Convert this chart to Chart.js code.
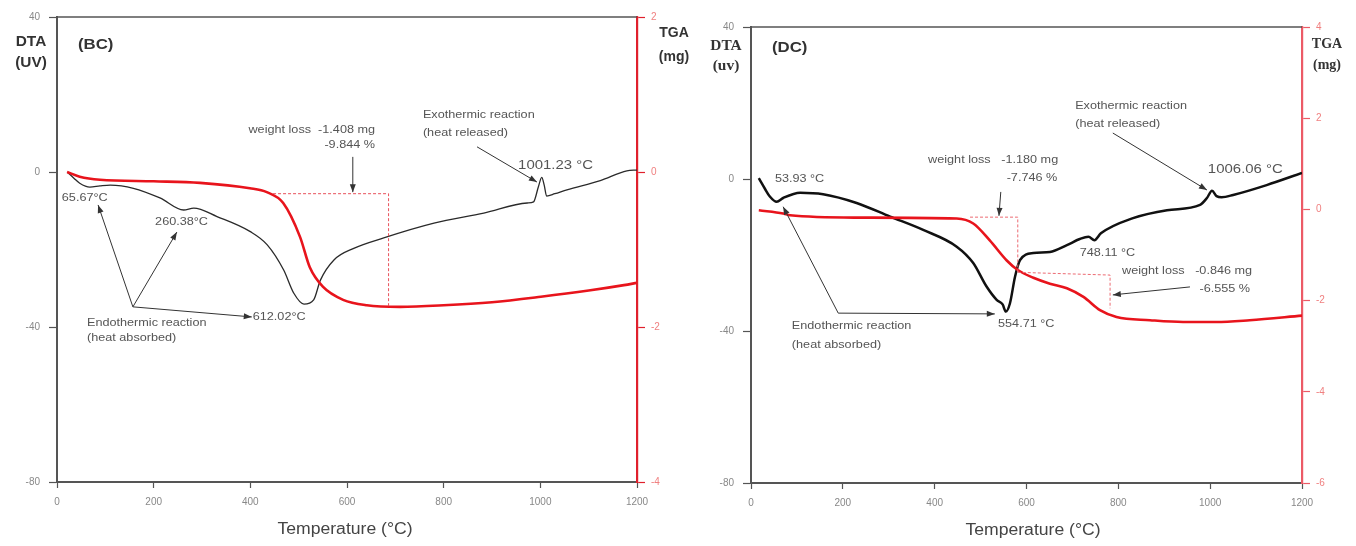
<!DOCTYPE html>
<html>
<head>
<meta charset="utf-8">
<script src="https://cdn.jsdelivr.net/npm/chart.js@4.4.0/dist/chart.umd.min.js"></script>
<style>
  html, body { margin: 0; padding: 0; background: #fff; }
  #wrap { position: relative; width: 1356px; height: 546px; overflow: hidden; }
  canvas { position: absolute; top: 0; }
</style>
</head>
<body>
<div id="wrap">
  <canvas id="bc" width="690" height="546" style="left:0"></canvas>
  <canvas id="dc" width="666" height="546" style="left:690px"></canvas>
</div>
<script>
// ---- shared tick values ----
const tempTicks = [0, 200, 400, 600, 800, 1000, 1200];
const dtaTicks = [40, 0, -40, -80];
const bcTgaTicks = [2, 0, -2, -4];
const dcTgaTicks = [4, 2, 0, -2, -4, -6];

// ---- (BC) DTA curve: temperature (°C) / signal (uV) ----
const bcDtaTemp  = [21, 35, 47, 68, 89, 110, 158, 213, 262, 283, 331, 400, 435, 469, 490, 511, 531, 545, 573, 614, 676, 780, 883, 973, 986, 996, 1003, 1008, 1013, 1030, 1055, 1124, 1179, 1200];
const bcDtaValue = [0, -1.6, -2.9, -3.9, -3.6, -3.4, -4.2, -6.7, -9.8, -9.3, -11.5, -15.4, -18.8, -25.3, -31.3, -34.1, -33.0, -27.9, -22.7, -19.7, -17.0, -13.2, -10.6, -8.0, -7.7, -3.8, -1.4, -3.4, -6.2, -5.6, -4.6, -2.2, 0.3, 0.5];

// ---- (BC) TGA curve: temperature (°C) / mass change (mg) ----
const bcTgaTemp  = [21, 47, 89, 200, 296, 399, 434, 468, 503, 523, 550, 592, 641, 710, 800, 900, 1001, 1100, 1173, 1200];
const bcTgaValue = [0, -0.06, -0.1, -0.12, -0.14, -0.21, -0.26, -0.4, -0.84, -1.23, -1.48, -1.65, -1.72, -1.74, -1.72, -1.68, -1.61, -1.53, -1.46, -1.43];

// ---- (DC) DTA curve ----
const dcDtaTemp  = [17, 30, 41, 56, 70, 107, 157, 230, 303, 375, 448, 484, 513, 535, 548, 555, 564, 575, 586, 615, 651, 688, 716, 735, 748, 762, 832, 906, 978, 993, 1004, 1014, 1025, 1050, 1123, 1200];
const dcDtaValue = [0.2, -2.5, -4.6, -6.0, -5.0, -3.6, -4.0, -6.3, -9.9, -13.4, -17.8, -22.1, -28.3, -31.8, -33.0, -34.9, -32.7, -25.7, -21.3, -19.5, -19.2, -17.4, -15.8, -15.2, -16.1, -14.3, -10.3, -8.2, -6.8, -5.0, -3.1, -4.5, -4.8, -4.2, -1.6, 1.6];

// ---- (DC) TGA curve ----
const dcTgaTemp  = [17, 70, 85, 230, 448, 484, 520, 557, 581, 615, 651, 688, 724, 760, 796, 869, 941, 1013, 1086, 1200];
const dcTgaValue = [-0.02, -0.09, -0.13, -0.18, -0.2, -0.31, -0.68, -1.12, -1.33, -1.5, -1.63, -1.73, -1.92, -2.21, -2.36, -2.43, -2.47, -2.47, -2.43, -2.33];

const SANS = "'Liberation Sans', Arial, sans-serif";
const SERIF = "'Liberation Serif', 'Times New Roman', serif";
const NOTE_COLOR = '#555';
const ARROW_COLOR = '#333';
const TEXT_STRETCH = 1.15;   // notes are set slightly wide

function pairs(xs, ys) { return xs.map((x, i) => ({ x: x, y: ys[i] })); }

function arrowHead(ctx, x1, y1, x2, y2) {
  const ang = Math.atan2(y2 - y1, x2 - x1);
  const len = 8, half = 3;
  ctx.beginPath();
  ctx.moveTo(x2, y2);
  ctx.lineTo(x2 - len * Math.cos(ang) + half * Math.sin(ang), y2 - len * Math.sin(ang) - half * Math.cos(ang));
  ctx.lineTo(x2 - len * Math.cos(ang) - half * Math.sin(ang), y2 - len * Math.sin(ang) + half * Math.cos(ang));
  ctx.closePath();
  ctx.fill();
}

function wideText(ctx, text, x, y, sx) {
  ctx.save();
  ctx.translate(x, y);
  ctx.scale(sx, 1);
  ctx.fillText(text, 0, 0);
  ctx.restore();
}

// Inline plugin: frame, axis captions, dashed step guides, arrows and notes.
function notesPlugin(spec) {
  return {
    id: 'notes',
    afterDatasetsDraw(chart) {
      const { ctx, scales } = chart;
      const xs = scales.x, y1 = scales.y1;
      ctx.save();
      ctx.strokeStyle = spec.dashColor;
      ctx.lineWidth = 1;
      ctx.setLineDash([3, 2]);
      spec.dashed.forEach(pts => {
        ctx.beginPath();
        pts.forEach((p, i) => {
          const px = xs.getPixelForValue(p[0]), py = y1.getPixelForValue(p[1]);
          if (i === 0) ctx.moveTo(px, py); else ctx.lineTo(px, py);
        });
        ctx.stroke();
      });
      ctx.restore();
    },
    afterDraw(chart) {
      const { ctx, chartArea: a, scales } = chart;
      const xs = scales.x, ys = scales.y;
      ctx.save();
      // top frame line
      ctx.strokeStyle = '#555';
      ctx.lineWidth = 1.5;
      ctx.beginPath();
      ctx.moveTo(a.left, a.top);
      ctx.lineTo(a.right, a.top);
      ctx.stroke();

      // arrows
      ctx.strokeStyle = ARROW_COLOR;
      ctx.fillStyle = ARROW_COLOR;
      ctx.lineWidth = 1;
      spec.arrows.forEach(ar => {
        const P = ar.pts.map(p => [xs.getPixelForValue(p[0]), ys.getPixelForValue(p[1])]);
        ctx.beginPath();
        P.forEach((p, i) => { if (i === 0) ctx.moveTo(p[0], p[1]); else ctx.lineTo(p[0], p[1]); });
        ctx.stroke();
        const n = P.length;
        if (ar.head === 'end' || ar.head === 'both') arrowHead(ctx, P[n - 2][0], P[n - 2][1], P[n - 1][0], P[n - 1][1]);
        if (ar.head === 'start' || ar.head === 'both') arrowHead(ctx, P[1][0], P[1][1], P[0][0], P[0][1]);
      });

      // notes placed in data units
      ctx.textBaseline = 'middle';
      spec.notes.forEach(t => {
        ctx.font = (t.size || 11) + 'px ' + SANS;
        ctx.fillStyle = NOTE_COLOR;
        ctx.textAlign = t.align || 'left';
        wideText(ctx, t.text, xs.getPixelForValue(t.x), ys.getPixelForValue(t.y), TEXT_STRETCH);
      });

      // axis captions and panel tag, placed in canvas units
      spec.captions.forEach(c => {
        ctx.font = c.font;
        ctx.fillStyle = c.color || '#333';
        ctx.textAlign = c.align || 'center';
        wideText(ctx, c.text, c.x, c.y, c.stretch || 1.1);
      });
      ctx.restore();
    }
  };
}

function makeChart(id, opt) {
  const tickFont = { family: SANS, size: 10 };
  return new Chart(document.getElementById(id), {
    type: 'line',
    data: {
      datasets: [
        {
          label: 'DTA', yAxisID: 'y',
          data: pairs(opt.dtaTemp, opt.dtaValue),
          borderColor: opt.dtaColor, borderWidth: opt.dtaWidth,
          pointRadius: 0, cubicInterpolationMode: 'monotone', order: 2
        },
        {
          label: 'TGA', yAxisID: 'y1',
          data: pairs(opt.tgaTemp, opt.tgaValue),
          borderColor: '#e8141c', borderWidth: 2.6,
          pointRadius: 0, cubicInterpolationMode: 'monotone', order: 1
        }
      ]
    },
    options: {
      responsive: false,
      animation: false,
      parsing: false,
      layout: { padding: { top: opt.top, left: 0, right: 0, bottom: 0 }, autoPadding: false },
      plugins: { legend: { display: false }, tooltip: { enabled: false } },
      scales: {
        x: {
          type: 'linear', position: 'bottom', min: 0, max: 1200,
          afterBuildTicks: s => { s.ticks = tempTicks.map(v => ({ value: v })); },
          afterFit: s => { s.height = opt.xHeight; },
          grid: { drawOnChartArea: false, tickLength: 6, tickColor: '#555', tickWidth: 1.2 },
          border: { display: true, color: '#555', width: 2 },
          ticks: { color: '#888', font: tickFont, padding: 8, maxRotation: 0, autoSkip: false, callback: v => String(v) }
        },
        y: {
          type: 'linear', position: 'left', min: -80, max: 40,
          afterBuildTicks: s => { s.ticks = dtaTicks.map(v => ({ value: v })); },
          afterFit: s => { s.width = opt.leftWidth; },
          grid: { drawOnChartArea: false, tickLength: 8, tickColor: '#555', tickWidth: 1.2 },
          border: { display: true, color: '#555', width: 2 },
          ticks: { color: '#888', font: tickFont, padding: 9, callback: v => String(v) }
        },
        y1: {
          type: 'linear', position: 'right', min: opt.tgaMin, max: opt.tgaMax,
          afterBuildTicks: s => { s.ticks = opt.tgaTicks.map(v => ({ value: v })); },
          afterFit: s => { s.width = opt.rightWidth; },
          grid: { drawOnChartArea: false, tickLength: 8, tickColor: opt.redAxis, tickWidth: 1.2 },
          border: { display: true, color: opt.redAxis, width: 2.2 },
          ticks: { color: '#f08080', font: tickFont, padding: 6, callback: v => String(v) }
        }
      }
    },
    plugins: [notesPlugin(opt.spec)]
  });
}

// ---- (BC) panel ----
makeChart('bc', {
  dtaTemp: bcDtaTemp, dtaValue: bcDtaValue, tgaTemp: bcTgaTemp, tgaValue: bcTgaValue,
  dtaColor: '#2a2a2a', dtaWidth: 1.3,
  tgaMin: -4, tgaMax: 2, tgaTicks: bcTgaTicks,
  top: 17, xHeight: 64, leftWidth: 57, rightWidth: 53, redAxis: '#e0202c',
  spec: {
    dashColor: '#e8505a',
    dashed: [[[447, -0.28], [686, -0.28], [686, -1.74]]],
    arrows: [
      { pts: [[612, 3.9], [612, -5.2]], head: 'end' },
      { pts: [[869, 6.5], [993, -2.6]], head: 'end' },
      { pts: [[157, -34.8], [85, -8.5]], head: 'end' },
      { pts: [[157, -34.8], [248, -15.5]], head: 'end' },
      { pts: [[157, -34.8], [403, -37.4]], head: 'end' }
    ],
    notes: [
      { text: 'weight loss  -1.408 mg', x: 658, y: 10.8, align: 'right' },
      { text: '-9.844 %', x: 658, y: 7, align: 'right' },
      { text: 'Exothermic reaction', x: 757, y: 14.7 },
      { text: '(heat released)', x: 757, y: 10 },
      { text: '1001.23 °C', x: 954, y: 1.8, size: 13 },
      { text: '65.67°C', x: 10, y: -6.7 },
      { text: '260.38°C', x: 203, y: -12.9 },
      { text: '612.02°C', x: 405, y: -37.4 },
      { text: 'Endothermic reaction', x: 62, y: -39 },
      { text: '(heat absorbed)', x: 62, y: -42.8 }
    ],
    captions: [
      { text: 'DTA', x: 31, y: 42, font: 'bold 14px ' + SANS },
      { text: '(UV)', x: 31, y: 63, font: 'bold 14px ' + SANS },
      { text: 'TGA', x: 674, y: 33, font: 'bold 14px ' + SANS, stretch: 1.0 },
      { text: '(mg)', x: 674, y: 57, font: 'bold 14px ' + SANS, stretch: 1.0 },
      { text: '(BC)', x: 78, y: 45, align: 'left', font: 'bold 14px ' + SANS, stretch: 1.2 },
      { text: 'Temperature (°C)', x: 345, y: 530, font: '16px ' + SANS, color: '#444' }
    ]
  }
});

// ---- (DC) panel ----
makeChart('dc', {
  dtaTemp: dcDtaTemp, dtaValue: dcDtaValue, tgaTemp: dcTgaTemp, tgaValue: dcTgaValue,
  dtaColor: '#111', dtaWidth: 2.5,
  tgaMin: -6, tgaMax: 4, tgaTicks: dcTgaTicks,
  top: 27, xHeight: 63, leftWidth: 61, rightWidth: 54, redAxis: '#ec5a66',
  spec: {
    dashColor: '#ec6a72',
    dashed: [
      [[477, -0.17], [581, -0.17], [581, -1.38]],
      [[581, -1.38], [782, -1.44], [782, -2.17]]
    ],
    arrows: [
      { pts: [[531, -35.5], [190, -35.3], [70, -7.3]], head: 'both' },
      { pts: [[544, -3.4], [540, -9.7]], head: 'end' },
      { pts: [[956, -28.4], [788, -30.5]], head: 'end' },
      { pts: [[788, 12.1], [993, -2.9]], head: 'end' }
    ],
    notes: [
      { text: '53.93 °C', x: 52, y: 0 },
      { text: '554.71 °C', x: 538, y: -38.2 },
      { text: 'Endothermic reaction', x: 89, y: -38.7 },
      { text: '(heat absorbed)', x: 89, y: -43.7 },
      { text: 'weight loss   -1.180 mg', x: 669, y: 5, align: 'right' },
      { text: '-7.746 %', x: 667, y: 0.3, align: 'right' },
      { text: 'weight loss   -0.846 mg', x: 808, y: -24.2 },
      { text: '-6.555 %', x: 1087, y: -28.9, align: 'right' },
      { text: '748.11 °C', x: 716, y: -19.5 },
      { text: '1006.06 °C', x: 995, y: 2.4, size: 13 },
      { text: 'Exothermic reaction', x: 706, y: 19.2 },
      { text: '(heat released)', x: 706, y: 14.5 }
    ],
    captions: [
      { text: 'DTA', x: 36, y: 46, font: 'bold 14px ' + SERIF },
      { text: '(uv)', x: 36, y: 66, font: 'bold 14px ' + SERIF },
      { text: 'TGA', x: 637, y: 44, font: 'bold 14px ' + SERIF, stretch: 1.0 },
      { text: '(mg)', x: 637, y: 65, font: 'bold 14px ' + SERIF, stretch: 1.0 },
      { text: '(DC)', x: 82, y: 48, align: 'left', font: 'bold 14px ' + SANS, stretch: 1.2 },
      { text: 'Temperature (°C)', x: 343, y: 531, font: '16px ' + SANS, color: '#444' }
    ]
  }
});
</script>
</body>
</html>
